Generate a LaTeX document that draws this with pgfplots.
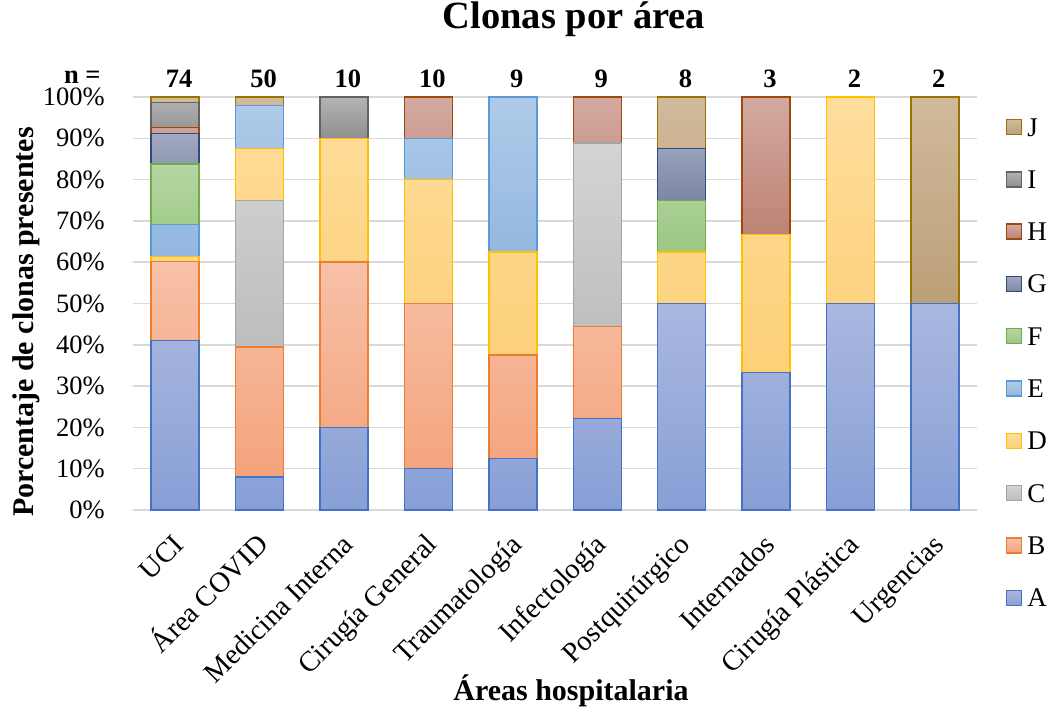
\documentclass[border=0pt]{standalone}
\usepackage{fontspec}
\setmainfont{Liberation Serif}
\usepackage{pgfplots}
\usepackage{pgfplotstable}
\pgfplotsset{compat=1.18}

% fill gradients (top / bottom) and border colour of every clone
\definecolor{Atop}{HTML}{AAB8E0}\definecolor{Abot}{HTML}{889FD6}\definecolor{Aln}{HTML}{4472C4}
\definecolor{Btop}{HTML}{F7C1A8}\definecolor{Bbot}{HTML}{F4A37C}\definecolor{Bln}{HTML}{ED7D31}
\definecolor{Ctop}{HTML}{D4D4D4}\definecolor{Cbot}{HTML}{BDBDBD}\definecolor{Cln}{HTML}{A5A5A5}
\definecolor{Dtop}{HTML}{FEDD9C}\definecolor{Dbot}{HTML}{FDD078}\definecolor{Dln}{HTML}{FFC000}
\definecolor{Etop}{HTML}{B0CBE9}\definecolor{Ebot}{HTML}{93B7E0}\definecolor{Eln}{HTML}{5B9BD5}
\definecolor{Ftop}{HTML}{B5D6A3}\definecolor{Fbot}{HTML}{9BC783}\definecolor{Fln}{HTML}{70AD47}
\definecolor{Gtop}{HTML}{A2A9C0}\definecolor{Gbot}{HTML}{7C87A5}\definecolor{Gln}{HTML}{2F4B7E}
\definecolor{Htop}{HTML}{D3A9A0}\definecolor{Hbot}{HTML}{BE8374}\definecolor{Hln}{HTML}{9E480E}
\definecolor{Itop}{HTML}{B3B3B3}\definecolor{Ibot}{HTML}{8F8F8F}\definecolor{Iln}{HTML}{636363}
\definecolor{Jtop}{HTML}{D1BA9C}\definecolor{Jbot}{HTML}{BB9F78}\definecolor{Jln}{HTML}{997300}
\definecolor{gridgray}{HTML}{D9D9D9}

% percentage of each clone per hospital area (rows in the order of the x axis)
\pgfplotstableread{
idx A    B    C    D    E    F    G    H    I    J
0   41.1 19.0 0    1.3  7.7  14.7 7.4  1.4  6.0  1.4
1   8.0  31.5 35.5 12.5 10.5 0    0    0    0    2.0
2   20.0 40.0 0    30.0 0    0    0    0    10.0 0
3   10.0 40.0 0    30.0 10.0 0    0    10.0 0    0
4   12.5 25.0 0    25.0 37.5 0    0    0    0    0
5   22.2 22.2 44.5 0    0    0    0    11.1 0    0
6   50.0 0    0    12.5 0    12.5 12.5 0    0    12.5
7   33.3 0    0    33.4 0    0    0    33.3 0    0
8   50.0 0    0    50.0 0    0    0    0    0    0
9   50.0 0    0    0    0    0    0    0    0    50.0
}\datos

\newcommand{\txtsize}{\fontsize{26.5}{31}\selectfont}

\pgfplotsset{
  clona/.style={top color=#1top, bottom color=#1bot, draw=#1ln, line width=1.4pt},
}
\tikzset{nlabel/.style={font=\bfseries\txtsize, anchor=base, xshift=4pt, yshift=9pt}}

\begin{document}
\begin{tikzpicture}
% page frame: the axis box has its lower left corner at the origin
\useasboundingbox (-133pt,-202pt) rectangle (919pt,510pt);
\begin{axis}[
  at={(0pt,0pt)}, anchor=south west,
  scale only axis,
  width=844pt, height=413pt,
  ybar stacked,
  bar width=48pt,
  xmin=-0.5, xmax=9.5,
  ymin=0, ymax=100,
  clip=false,
  axis line style={draw=none},
  ymajorgrids,
  grid style={gridgray, line width=1.4pt},
  major tick length=0pt,
  xtick={0,...,9},
  xticklabels={UCI, Área COVID, Medicina Interna, Cirugía General, Traumatología,
    Infectología, Postquirúrgico, Internados, Cirugía Plástica, Urgencias},
  ytick={0,10,...,100},
  yticklabel={\pgfmathprintnumber{\tick}\%},
  /pgf/number format/assume math mode=true,
  ticklabel style={font=\txtsize},
  yticklabel style={inner sep=0pt, xshift=-28pt, anchor=east},
  xticklabel style={font=\fontsize{28.5}{33}\selectfont, inner sep=0pt, text height=18.5pt, text depth=5pt,
    anchor=north east, rotate=45, xshift=-18.3pt, yshift=-14.2pt},
  title={Clonas por área},
  title style={font=\bfseries\fontsize{38.5}{44}\selectfont, at={(axis description cs:0.5225,1)}, anchor=base, yshift=62pt},
  xlabel={Áreas hospitalaria},
  xlabel style={font=\bfseries\fontsize{30}{36}\selectfont, at={(axis description cs:0.519,0)}, anchor=base, yshift=-190pt},
  ylabel={Porcentaje de clonas presentes},
  ylabel style={font=\bfseries\fontsize{30}{36}\selectfont, at={(axis description cs:-0.1268,0.455)}, anchor=center},
  reverse legend,
  legend cell align=left,
  legend image code/.code={\draw[#1] (0pt,-5.5pt) rectangle (15pt,9.5pt);},
  legend style={at={(axis description cs:1,1)}, anchor=north west, xshift=29pt, yshift=-19pt,
    draw=none, fill=none, inner sep=0pt, outer sep=0pt, row sep=26.3pt, column sep=5pt,
    font=\fontsize{27}{32}\selectfont, nodes={inner sep=0pt, text height=20pt, text depth=6pt}},
]
\addplot[clona=A] table[x=idx, y=A] {\datos};
\addplot[clona=B] table[x=idx, y=B] {\datos};
\addplot[clona=C] table[x=idx, y=C] {\datos};
\addplot[clona=D] table[x=idx, y=D] {\datos};
\addplot[clona=E] table[x=idx, y=E] {\datos};
\addplot[clona=F] table[x=idx, y=F] {\datos};
\addplot[clona=G] table[x=idx, y=G] {\datos};
\addplot[clona=H] table[x=idx, y=H] {\datos};
\addplot[clona=I] table[x=idx, y=I] {\datos};
\addplot[clona=J] table[x=idx, y=J] {\datos};
\legend{A,B,C,D,E,F,G,H,I,J}

% number of isolates per area
\node[nlabel] at (axis cs:0,100) {74};
\node[nlabel] at (axis cs:1,100) {50};
\node[nlabel] at (axis cs:2,100) {10};
\node[nlabel] at (axis cs:3,100) {10};
\node[nlabel] at (axis cs:4,100) {9};
\node[nlabel] at (axis cs:5,100) {9};
\node[nlabel] at (axis cs:6,100) {8};
\node[nlabel] at (axis cs:7,100) {3};
\node[nlabel] at (axis cs:8,100) {2};
\node[nlabel] at (axis cs:9,100) {2};
\node[font=\bfseries\txtsize, anchor=base east, xshift=-29pt, yshift=13pt] at (rel axis cs:0,1) {n =};
\end{axis}
\end{tikzpicture}
\end{document}
